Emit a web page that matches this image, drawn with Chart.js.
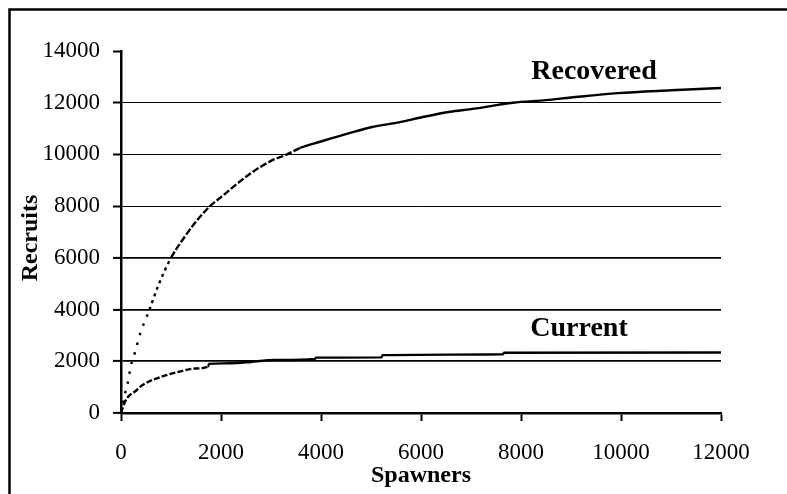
<!DOCTYPE html>
<html>
<head>
<meta charset="utf-8">
<script src="https://cdn.jsdelivr.net/npm/chart.js@4/dist/chart.umd.min.js"></script>
<style>
  html, body { margin: 0; padding: 0; background: #fff; }
  #wrap { width: 787px; height: 494px; position: relative; }
</style>
</head>
<body>
<div id="wrap"><canvas id="c" width="787" height="494"></canvas></div>
<script>
// ---- data ----
const recoveredS = [0, 67, 133, 200, 280, 380, 570, 750, 1000, 1250, 1500, 1780, 2000, 2580, 3000, 3320, 3580, 4000, 4580, 5000, 5580, 6000, 6580, 7000, 7840, 8500, 9000, 9940, 11000, 12000];
const recoveredR = [0, 650, 1150, 1850, 2350, 3050, 4000, 4950, 6000, 6750, 7400, 8000, 8350, 9250, 9750, 10000, 10250, 10500, 10830, 11050, 11250, 11430, 11650, 11750, 12000, 12100, 12200, 12370, 12480, 12570];

const currentS = [0, 80, 180, 280, 380, 550, 750, 950, 1210, 1480, 1740, 1760, 2050, 2500, 3080, 3880, 3900, 5210, 5230, 7640, 7660, 12000];
const currentR = [0, 440, 700, 830, 1010, 1210, 1360, 1490, 1620, 1720, 1790, 1900, 1920, 1960, 2050, 2090, 2140, 2150, 2240, 2270, 2330, 2340];

const xTicks = [0, 2000, 4000, 6000, 8000, 10000, 12000];
const yTicks = [0, 2000, 4000, 6000, 8000, 10000, 12000, 14000];

const seriesNames = ['Recovered', 'Current'];
const xTitle = 'Spawners';
const yTitle = 'Recruits';

const SERIF = '"Liberation Serif", "Times New Roman", serif';

function pts(xs, ys) { return xs.map((x, i) => ({ x: x, y: ys[i] })); }

const decor = {
  id: 'decor',
  beforeDraw(chart) {
    const c = chart.ctx;
    c.save();
    c.fillStyle = '#fff';
    c.fillRect(0, 0, chart.width, chart.height);
    c.restore();
  },
  afterDraw(chart) {
    const c = chart.ctx;
    const xs = chart.scales.x;
    c.save();
    // outer frame
    c.strokeStyle = '#000';
    c.lineWidth = 2.5;
    c.strokeRect(9.5, 9.5, 800, 500);
    // axis titles
    c.fillStyle = '#000';
    c.font = 'bold 24px ' + SERIF;
    c.textAlign = 'center';
    c.textBaseline = 'alphabetic';
    c.fillText(xTitle, (xs.left + xs.right) / 2, 482);
    c.save();
    c.translate(37, 238);
    c.rotate(-Math.PI / 2);
    c.fillText(yTitle, 0, 0);
    c.restore();
    // series labels
    c.font = 'bold 28px ' + SERIF;
    c.fillText(seriesNames[0], 594, 79);
    c.fillText(seriesNames[1], 579, 336);
    c.restore();
  }
};

new Chart(document.getElementById('c'), {
  type: 'scatter',
  data: {
    datasets: [
      {
        label: seriesNames[0],
        data: pts(recoveredS, recoveredR),
        showLine: true,
        borderColor: '#000',
        borderWidth: 2.4,
        pointRadius: 0,
        cubicInterpolationMode: 'monotone',
        borderCapStyle: 'butt',
        segment: {
          borderDash: ctx => {
            const x = ctx.p0.parsed.x;
            if (x < 560) return [2.5, 7.5];
            if (x < 900) return [3, 4];
            if (x < 3500) return [7, 2.2];
            return undefined;
          }
        }
      },
      {
        label: seriesNames[1],
        data: pts(currentS, currentR),
        showLine: true,
        borderColor: '#000',
        borderWidth: 2.4,
        pointRadius: 0,
        cubicInterpolationMode: 'monotone',
        borderCapStyle: 'butt',
        segment: {
          borderDash: ctx => {
            const x = ctx.p0.parsed.x;
            if (x < 1700) return [6, 2.2];
            return undefined;
          }
        }
      }
    ]
  },
  options: {
    responsive: false,
    animation: false,
    devicePixelRatio: 1,
    layout: { padding: { left: 0, top: 51, right: 66, bottom: 0 } },
    plugins: { legend: { display: false }, tooltip: { enabled: false } },
    scales: {
      x: {
        type: 'linear',
        min: 0, max: 12000,
        afterBuildTicks: s => { s.ticks = xTicks.map(v => ({ value: v })); },
        afterFit: s => { s.height = 81; },
        grid: {
          color: 'rgba(0,0,0,0)',
          tickColor: '#000',
          tickLength: 8,
          tickWidth: 2
        },
        border: { color: '#000', width: 2.5 },
        ticks: {
          color: '#000',
          font: { family: SERIF, size: 23 },
          padding: 18,
          maxRotation: 0,
          autoSkip: false,
          callback: v => String(v)
        }
      },
      y: {
        type: 'linear',
        min: 0, max: 14000,
        afterBuildTicks: s => { s.ticks = yTicks.map(v => ({ value: v })); },
        afterFit: s => { s.width = 121; },
        grid: {
          color: ctx => (ctx.tick && ctx.tick.value === 14000) ? 'rgba(0,0,0,0)' : '#000',
          lineWidth: ctx => (ctx.tick && ctx.tick.value <= 6000) ? 1.8 : 1,
          tickColor: '#000',
          tickLength: 8,
          tickWidth: 2
        },
        border: { color: '#000', width: 2.5 },
        ticks: {
          color: '#000',
          font: { family: SERIF, size: 23 },
          padding: 13,
          autoSkip: false,
          callback: v => String(v)
        }
      }
    }
  },
  plugins: [decor]
});
</script>
</body>
</html>
